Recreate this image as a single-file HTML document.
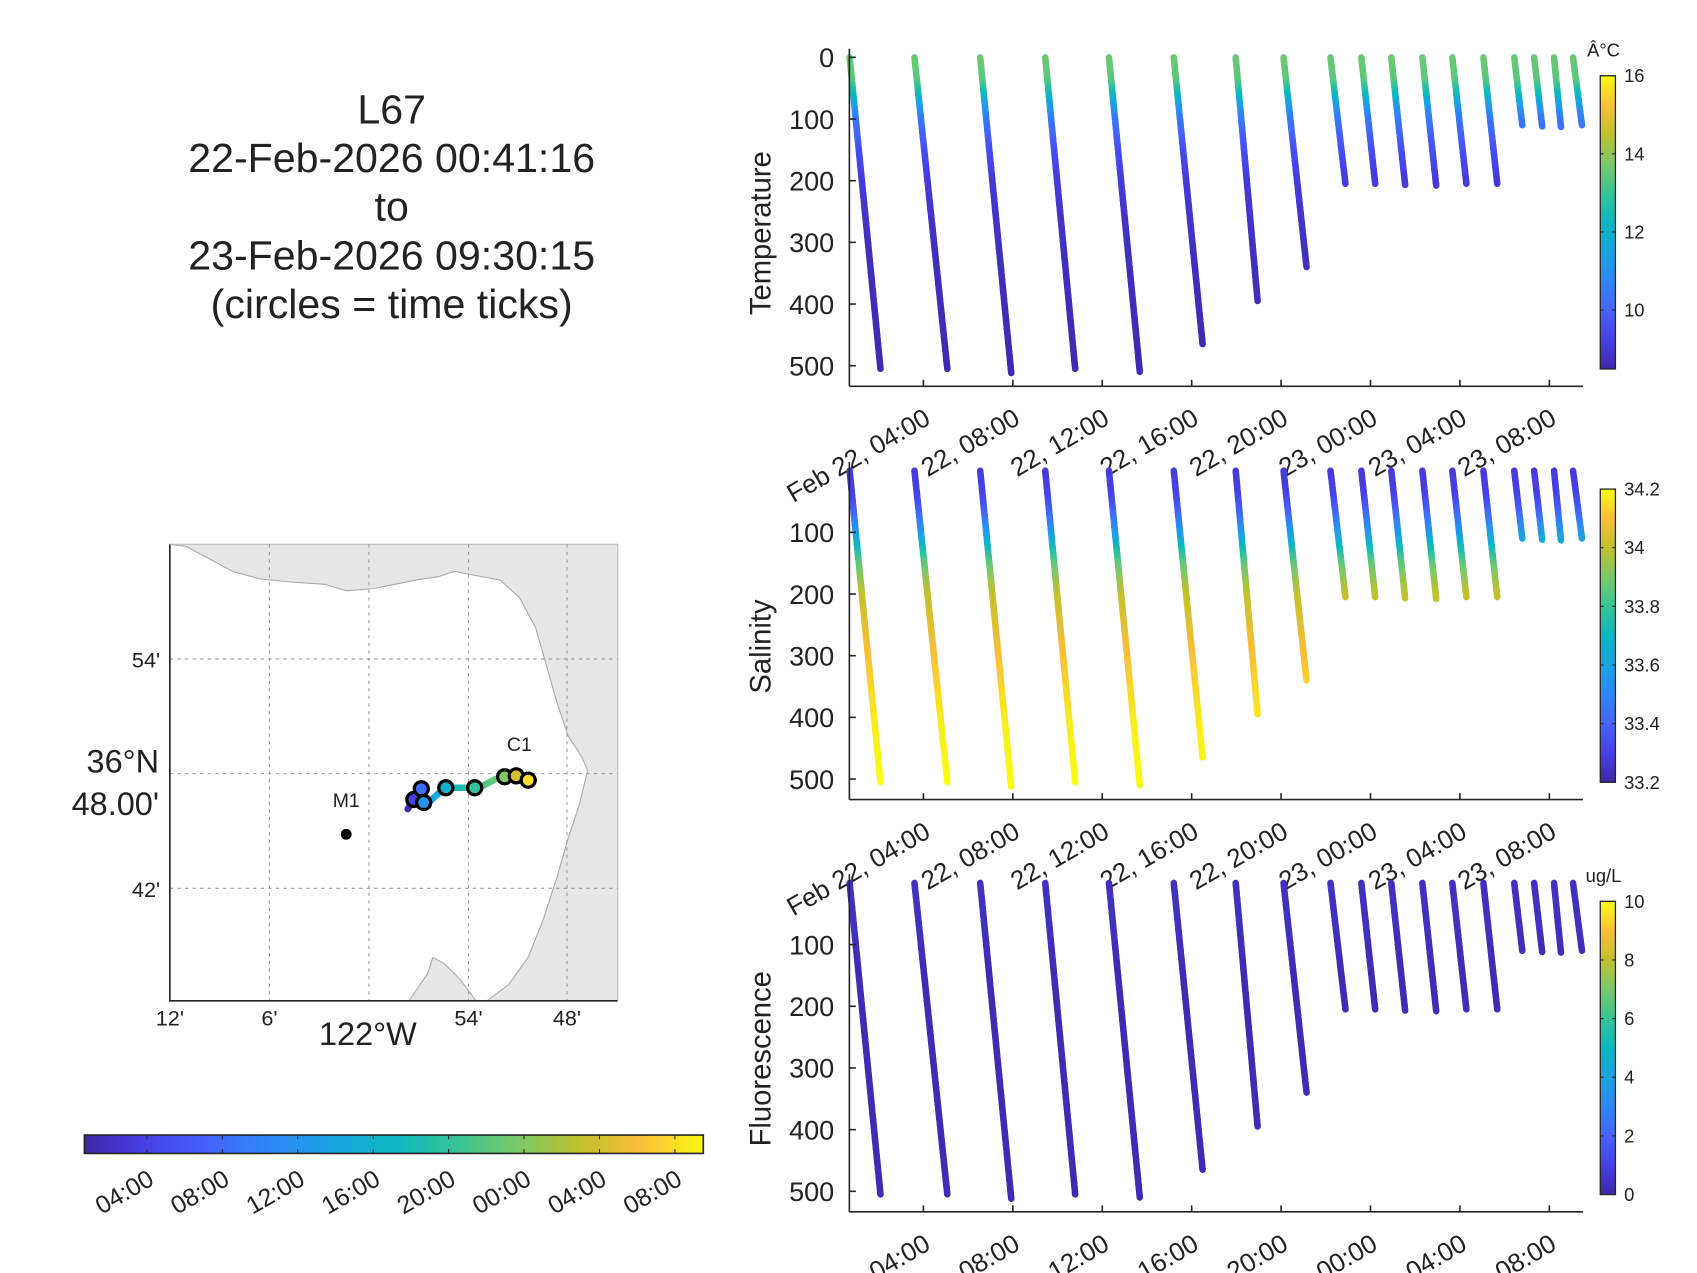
<!DOCTYPE html>
<html><head><meta charset="utf-8"><style>
html,body{margin:0;padding:0;background:#fff}
svg{display:block}
text{font-family:"Liberation Sans",sans-serif;fill:#222}
</style></head><body>
<svg id="fig" width="1697" height="1273" viewBox="0 0 1568.4 1176.5" preserveAspectRatio="none" xmlns="http://www.w3.org/2000/svg">
<g font-size="38" text-anchor="middle">
<text x="362" y="114">L67</text>
<text x="362" y="159">22-Feb-2026 00:41:16</text>
<text x="362" y="204">to</text>
<text x="362" y="249">23-Feb-2026 09:30:15</text>
<text x="362" y="294">(circles = time ticks)</text>
</g>
<g id="map"></g>
<g id="panels"></g>
</svg>
<script>
// ---- data ----
const profStart=[0.70,3.60,6.54,9.45,12.30,15.20,17.97,20.11,22.21,23.59,24.93,26.32,27.66,29.05,30.43,31.32,32.21,33.06];
const profEnd=[2.08,5.07,7.93,10.79,13.68,16.49,18.95,21.14,22.88,24.21,25.55,26.94,28.29,29.67,30.79,31.68,32.52,33.46];
const profMaxDepth=[505,505,512,505,510,465,395,340,205,205,207,208,205,205,110,112,113,110];
const depthLevels=[0,40,60,80,100,150,200,300,400,500];
const tempVals=[13.6,13.4,12.4,11.4,10.5,9.6,9.1,8.8,8.7,8.6];
const salVals=[33.28,33.30,33.36,33.45,33.55,33.85,34.0,34.1,34.17,34.2];
const fluorVals=[0.4,0.4,0.4,0.4,0.3,0.2,0.2,0.2,0.2,0.2];
const profLon=[-121.9598,-121.9543,-121.9457,-121.9522,-121.9413,-121.9239,-121.9054,-121.8891,-121.8728,-121.8641,-121.8587,-121.8554,-121.8522,-121.8489,-121.8446,-121.8413,-121.8391,-121.8380];
const profLat=[36.7708,36.7783,36.7906,36.7764,36.7740,36.7877,36.7877,36.7877,36.7953,36.7972,36.7981,36.7991,36.7981,36.7972,36.7953,36.7943,36.7943,36.7943];
const xTickHours=[4,8,12,16,20,24,28,32];
const xTickLabels=["Feb 22, 04:00","22, 08:00","22, 12:00","22, 16:00","22, 20:00","23, 00:00","23, 04:00","23, 08:00"];
const mapTickLabels=["04:00","08:00","12:00","16:00","20:00","00:00","04:00","08:00"];
const yTicks=[0,100,200,300,400,500];
const tempCbTicks=[10,12,14,16];
const salCbTicks=[33.2,33.4,33.6,33.8,34,34.2];
const fluorCbTicks=[0,2,4,6,8,10];

const NS="http://www.w3.org/2000/svg";
function el(tag,attrs,parent,txt){const e=document.createElementNS(NS,tag);for(const k in attrs)e.setAttribute(k,attrs[k]);if(txt!==undefined)e.textContent=txt;parent.appendChild(e);return e;}
const P=[[62,38,168],[71,64,231],[68,100,250],[46,135,247],[26,163,226],[12,183,194],[54,196,150],[122,201,104],[192,193,44],[252,190,57],[249,251,20]];
function parula(t){t=Math.max(0,Math.min(1,t))*10;const i=Math.min(9,Math.floor(t)),f=t-i;const a=P[i],b=P[i+1];return `rgb(${Math.round(a[0]+(b[0]-a[0])*f)},${Math.round(a[1]+(b[1]-a[1])*f)},${Math.round(a[2]+(b[2]-a[2])*f)})`;}
function interp(xs,ys,x){for(let i=0;i<xs.length-1;i++){if(x<=xs[i+1]){const f=(x-xs[i])/(xs[i+1]-xs[i]);return ys[i]+(ys[i+1]-ys[i])*f;}}return ys[ys.length-1];}

const T0=0.6878,T1=33.504,AX0=785,AX1=1463;
const xScale=h=>AX0+(h-T0)/(T1-T0)*(AX1-AX0);
const root=document.getElementById('panels');
let gid=0;
function panel(name,label,top,vals,vmin,vmax,cbTicks,unit,cbDec){
  const y0=top,y500=top+285,axY=top+304;
  const yS=d=>y0+d/500*(y500-y0);
  const g=el('g',{},root);
  
  
  const pl=el('g',{},g);
  
  
  for(let p=0;p<profStart.length;p++){
    const md=profMaxDepth[p];
    const pg=el('g',{},pl);
    
    
    const step=4;
    for(let d=0;d<md;d+=step){
      const d2=Math.min(md,d+step);
      const h1=profStart[p]+(profEnd[p]-profStart[p])*d/md, h2=profStart[p]+(profEnd[p]-profStart[p])*d2/md;
      const v=interp(depthLevels,vals,(d+d2)/2);
      el('line',{x1:xScale(h1),y1:yS(d),x2:xScale(h2),y2:yS(d2),stroke:parula((v-vmin)/(vmax-vmin)),'stroke-width':6,'stroke-linecap':'round'},pg);
    }
  }
  const ax=el('g',{stroke:'#262626','stroke-width':1.5},g);
  
  
  el('line',{x1:AX0,y1:top-8,x2:AX0,y2:axY},ax);
  el('line',{x1:AX0,y1:axY,x2:AX1,y2:axY},ax);
  xTickHours.forEach((h,i)=>{const x=xScale(h);el('line',{x1:x,y1:axY,x2:x,y2:axY-6},ax);
    const t=el('text',{x:0,y:0,'font-size':24,'text-anchor':'end',transform:`translate(${x+8},${axY+34}) rotate(-30)`,stroke:'none'},g,xTickLabels[i]);
    
    });
  yTicks.forEach(v=>{if(name!=='temperature'&&v===0)return;const y=yS(v);el('line',{x1:AX0,y1:y,x2:AX0+6,y2:y},ax);
    const t=el('text',{x:771,y:y+9,'font-size':25,'text-anchor':'end',stroke:'none'},g,String(v));
    
    });
  const yl=el('text',{x:0,y:0,'font-size':27,'text-anchor':'middle',transform:`translate(712,${(y0+y500)/2+20}) rotate(-90)`},g,label);
  
  
  const cbT=top+17,cbB=top+288,cx=1479,cw=14;
  const cb=el('g',{},g);
  
  
  gid++;
  const defs=el('defs',{},cb);
  const lg=el('linearGradient',{id:'cg'+gid,x1:0,y1:1,x2:0,y2:0},defs);
  for(let i=0;i<=10;i++)el('stop',{offset:i/10,'stop-color':parula(i/10)},lg);
  el('rect',{x:cx,y:cbT,width:cw,height:cbB-cbT,fill:`url(#cg${gid})`,stroke:'#262626','stroke-width':1.2},cb);
  const cmin=name==='temperature'?8.49:vmin;
  cbTicks.forEach(v=>{const y=cbB-(v-cmin)/(vmax-cmin)*(cbB-cbT);
    el('line',{x1:cx,y1:y,x2:cx+3,y2:y,stroke:'#262626'},cb);el('line',{x1:cx+cw-3,y1:y,x2:cx+cw,y2:y,stroke:'#262626'},cb);
    el('text',{x:cx+22,y:y+6,'font-size':17},cb,cbDec?v.toFixed(cbDec).replace(/\.0$/,''):String(v));});
  if(unit)el('text',{x:cx+3,y:top-1,'font-size':17,'text-anchor':'middle'},cb,unit);
}
panel('temperature','Temperature',53,tempVals,8.49,16,tempCbTicks,'Â°C',0);
panel('salinity','Salinity',435,salVals,33.2,34.2,salCbTicks,'',1);
panel('fluorescence','Fluorescence',816,fluorVals,0,10,fluorCbTicks,'ug/L',0);

// ---- map ----
const M=document.getElementById('map');
const L=157,R=571,TOP=503,BOT=925;
const lonX=lon=>341+(lon+122)*920;
const latY=lat=>715-(lat-36.8)*1060;
el('rect',{x:L,y:TOP,width:R-L,height:BOT-TOP,fill:'#e6e6e6'},M);
const water=el('path',{d:"M172,505 L185,512 L200,520 L215,528 L240,535 L270,538 L300,540 L320,546 L345,544 L365,540 L385,536 L405,533 L420,528 L440,532 L462,536 L480,552 L495,580 L505,615 L515,650 L525,680 L538,700 L543,712 L540,725 L535,745 L525,775 L515,810 L502,850 L488,885 L470,910 L450,925 L440,925 L425,905 L410,890 L400,885 L395,900 L378,925 L157,925 L157,503 Z",fill:'#fff',stroke:'#aaa','stroke-width':1},M);


const grid=el('g',{stroke:'#999','stroke-width':1,'stroke-dasharray':'3,4'},M);
[249,341,433,524].forEach(x=>el('line',{x1:x,y1:TOP,x2:x,y2:BOT},grid));
[609,715,821].forEach(y=>el('line',{x1:L,y1:y,x2:R,y2:y},grid));
el('path',{d:`M${L},${TOP} L${L},${BOT} L${R},${BOT}`,fill:'none',stroke:'#222','stroke-width':1.5},M);
el('line',{x1:R,y1:TOP,x2:R,y2:BOT,stroke:'#bbb'},M);
el('line',{x1:L,y1:TOP,x2:R,y2:TOP,stroke:'#bbb'},M);
[["12'",157],["6'",249],["54'",433],["48'",524]].forEach(a=>el('text',{x:a[1],y:948,'font-size':20,'text-anchor':'middle'},M,a[0]));
el('text',{x:340,y:966,'font-size':30,'text-anchor':'middle'},M,"122°W");
el('text',{x:148,y:617,'font-size':20,'text-anchor':'end'},M,"54'");
el('text',{x:148,y:829,'font-size':20,'text-anchor':'end'},M,"42'");
el('text',{x:147,y:714,'font-size':30,'text-anchor':'end'},M,"36°N");
el('text',{x:147,y:753,'font-size':30,'text-anchor':'end'},M,"48.00'");
el('circle',{cx:320,cy:771,r:5,fill:'#000'},M);
el('text',{x:320,y:746,'font-size':18,'text-anchor':'middle'},M,"M1");
el('text',{x:480,y:694,'font-size':18,'text-anchor':'middle'},M,"C1");
const trk=el('g',{},M);


const pt=h=>{const pm=profStart.map((s,i)=>(s+profEnd[i])/2);return [lonX(interp(pm,profLon,h)),latY(interp(pm,profLat,h))];};
for(let h=profStart[0];h<T1;h+=0.25){const a=pt(h),b=pt(h+0.25);el('line',{x1:a[0],y1:a[1],x2:b[0],y2:b[1],stroke:parula((h-T0)/(T1-T0)),'stroke-width':6,'stroke-linecap':'round'},trk);}
xTickHours.forEach(h=>{const a=pt(h);const c=el('circle',{cx:a[0],cy:a[1],r:6.5,fill:parula((h-T0)/(T1-T0)),stroke:'#000','stroke-width':3},trk);

});
const mcb=el('g',{},M);


const d2=el('defs',{},mcb);const lg2=el('linearGradient',{id:'mcg',x1:0,y1:0,x2:1,y2:0},d2);
for(let i=0;i<=10;i++)el('stop',{offset:i/10,'stop-color':parula(i/10)},lg2);
const CX0=78,CX1=650;const cX=h=>CX0+(h-T0)/(T1-T0)*(CX1-CX0);
el('rect',{x:CX0,y:1049,width:CX1-CX0,height:17,fill:'url(#mcg)',stroke:'#262626','stroke-width':1.5},mcb);
xTickHours.forEach((h,i)=>{const x=cX(h);el('line',{x1:x,y1:1049,x2:x,y2:1053,stroke:'#262626'},mcb);el('line',{x1:x,y1:1062,x2:x,y2:1066,stroke:'#262626'},mcb);
el('text',{x:0,y:0,'font-size':23,'text-anchor':'end',transform:`translate(${x+8},${1094}) rotate(-30)`},mcb,mapTickLabels[i]);});
</script>
</body></html>
